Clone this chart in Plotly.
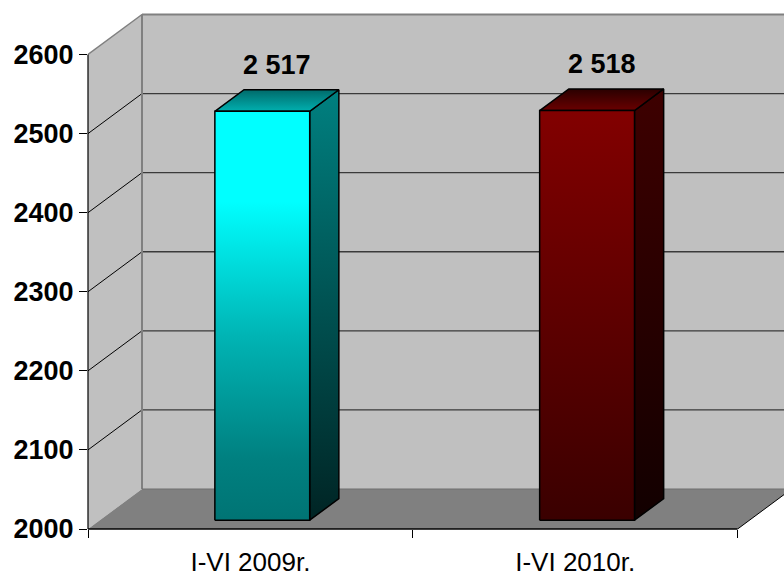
import plotly.graph_objects as go

# ---- data ----
categories = ["I-VI 2009r.", "I-VI 2010r."]
values = [2517, 2518]
y_ticks = [2000, 2100, 2200, 2300, 2400, 2500, 2600]

# ---- styling / geometry (pixel-based projection of the Excel 3-D look) ----
FONT = "Liberation Sans, Arial, sans-serif"
W, H = 784, 576
ML, MB = 88, 47
PX_PER_CAT = 324.8
PX_PER_UNIT = 0.7908
x_max = (W - ML) / PX_PER_CAT
y_min = y_ticks[0]
y_top = y_ticks[-1]
y_max = y_min + (H - MB) / PX_PER_UNIT
DX = 54 / PX_PER_CAT          # depth vector in axis units
DY = 40 / PX_PER_UNIT
F0, F1 = 0.22, 0.76            # bar depth span (fractions of wall depth)
HALF_W = 0.146                 # half bar width (category units)

front_cols = [
    [[0, "#007474"], [0.15, "#008080"], [0.45, "#00B4B4"], [0.78, "#00FFFF"], [1, "#00FFFF"]],
    [[0, "#3A0000"], [1, "#820000"]],
]
side_cols = [
    [[0, "#002424"], [1, "#008080"]],
    [[0, "#120000"], [1, "#3E0000"]],
]
top_cols = [
    [[0, "#00B0B0"], [1, "#006A6A"]],
    [[0, "#6A0000"], [1, "#2A0000"]],
]

n_cat = len(categories)
fig = go.Figure()
shapes = []


def path(pts):
    return "M " + " L ".join(f"{x},{y}" for x, y in pts) + " Z"


# back wall
shapes.append(dict(type="path", xref="x", yref="y", layer="below",
                   path=path([(DX, y_min + DY), (x_max + 0.1, y_min + DY),
                              (x_max + 0.1, y_top + DY), (DX, y_top + DY)]),
                   fillcolor="#C0C0C0", line=dict(width=0)))
# left wall
shapes.append(dict(type="path", xref="x", yref="y", layer="below",
                   path=path([(0, y_min), (DX, y_min + DY), (DX, y_top + DY), (0, y_top)]),
                   fillcolor="#C0C0C0", line=dict(width=0)))
# floor
shapes.append(dict(type="path", xref="x", yref="y", layer="below",
                   path=path([(0, y_min), (n_cat, y_min), (n_cat + DX, y_min + DY), (DX, y_min + DY)]),
                   fillcolor="#808080", line=dict(width=0)))
# gridlines
for v in y_ticks[1:-1]:
    shapes.append(dict(type="line", xref="x", yref="y", layer="below",
                       x0=DX, x1=x_max + 0.1, y0=v + DY, y1=v + DY,
                       line=dict(color="#3A3A3A", width=1.3)))
    shapes.append(dict(type="line", xref="x", yref="y", layer="below",
                       x0=0, x1=DX, y0=v, y1=v + DY,
                       line=dict(color="#000000", width=1)))
# wall edges
shapes.append(dict(type="line", xref="x", yref="y", layer="below",
                   x0=DX, x1=x_max + 0.1, y0=y_top + DY, y1=y_top + DY,
                   line=dict(color="#808080", width=2)))
shapes.append(dict(type="line", xref="x", yref="y", layer="below",
                   x0=0, x1=DX, y0=y_top, y1=y_top + DY,
                   line=dict(color="#808080", width=1.5)))
shapes.append(dict(type="line", xref="x", yref="y", layer="below",
                   x0=DX, x1=DX, y0=y_min + DY, y1=y_top + DY,
                   line=dict(color="#808080", width=2)))
shapes.append(dict(type="line", xref="x", yref="y", layer="below",
                   x0=DX, x1=x_max + 0.1, y0=y_min + DY, y1=y_min + DY,
                   line=dict(color="#6E6E6E", width=1)))
# floor right edge
shapes.append(dict(type="line", xref="x", yref="y", layer="below",
                   x0=n_cat, x1=n_cat + DX, y0=y_min, y1=y_min + DY,
                   line=dict(color="#000000", width=1)))
# axis lines
shapes.append(dict(type="line", xref="x", yref="paper",
                   x0=0, x1=n_cat, y0=0, y1=0,
                   line=dict(color="#000000", width=1.6)))
shapes.append(dict(type="line", xref="paper", yref="y",
                   x0=0, x1=0, y0=y_min, y1=y_top,
                   line=dict(color="#000000", width=1.2)))

annotations = []
for i, (cat, v) in enumerate(zip(categories, values)):
    c = i + 0.5
    sx0, sy0 = F0 * DX, F0 * DY
    sx1, sy1 = F1 * DX, F1 * DY
    xl, xr = c - HALF_W, c + HALF_W
    front = [(xl + sx0, y_min + sy0), (xr + sx0, y_min + sy0),
             (xr + sx0, v + sy0), (xl + sx0, v + sy0), (xl + sx0, y_min + sy0)]
    side = [(xr + sx0, y_min + sy0), (xr + sx1, y_min + sy1),
            (xr + sx1, v + sy1), (xr + sx0, v + sy0), (xr + sx0, y_min + sy0)]
    top = [(xl + sx0, v + sy0), (xr + sx0, v + sy0),
           (xr + sx1, v + sy1), (xl + sx1, v + sy1), (xl + sx0, v + sy0)]
    for pts, cs in ((side, side_cols[i]), (top, top_cols[i]), (front, front_cols[i])):
        ys = [p[1] for p in pts]
        fig.add_trace(go.Scatter(
            x=[p[0] for p in pts], y=ys, mode="lines", fill="toself",
            fillgradient=dict(type="vertical", colorscale=cs,
                              start=min(ys), stop=max(ys)),
            line=dict(color="#000000", width=1.5),
            hoverinfo="skip", showlegend=False))
    annotations.append(dict(
        x=c + (F0 + F1) / 2 * DX, y=v + sy1, xref="x", yref="y",
        text=f"{v:,}".replace(",", " "), showarrow=False,
        yanchor="bottom", xanchor="center", yshift=8,
        font=dict(family=FONT, size=27, color="#000000", weight="bold")))

fig.update_layout(
    width=W, height=H,
    margin=dict(l=ML, r=0, t=0, b=MB, pad=0),
    paper_bgcolor="#FFFFFF", plot_bgcolor="#FFFFFF",
    shapes=shapes, annotations=annotations,
    showlegend=False,
    xaxis=dict(range=[0, x_max], showgrid=False, zeroline=False, showline=False,
               tickmode="array", tickvals=[i + 0.5 for i in range(n_cat)],
               ticktext=categories, ticks="outside", ticklen=10,
               tickcolor="rgba(0,0,0,0)",
               tickfont=dict(family=FONT, size=26, color="#000000"),
               minor=dict(tickmode="array", tickvals=list(range(n_cat + 1)),
                          ticks="outside", ticklen=8, tickwidth=1, tickcolor="#000000",
                          showgrid=False),
               automargin=False, fixedrange=True),
    yaxis=dict(range=[y_min, y_max], showgrid=False, zeroline=False, showline=False,
               tickmode="array", tickvals=y_ticks, ticktext=[str(t) for t in y_ticks],
               ticks="outside", ticklen=8, tickwidth=1, tickcolor="#000000",
               tickfont=dict(family=FONT, size=27, color="#000000", weight="bold"),
               automargin=False, fixedrange=True),
)

fig.write_html("out.html", config={"displayModeBar": False},
               post_script="document.body.style.margin='0';document.body.style.overflow='hidden';")
